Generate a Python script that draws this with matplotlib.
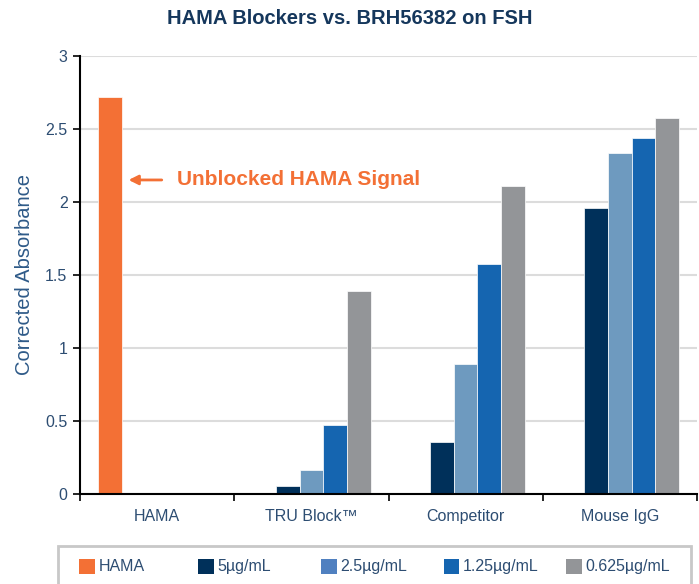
import matplotlib
matplotlib.use("Agg")
import matplotlib.pyplot as plt
from matplotlib.patches import Rectangle
import numpy as np

plt.rcParams['font.family'] = ['Liberation Sans', 'DejaVu Sans']

categories = ["HAMA", "TRU Block\u2122", "Competitor", "Mouse IgG"]
series_names = ["HAMA", "5\u00b5g/mL", "2.5\u00b5g/mL", "1.25\u00b5g/mL", "0.625\u00b5g/mL"]
hama = [2.72, 0, 0, 0]
c5 = [0, 0.05, 0.35, 1.96]
c25 = [0, 0.16, 0.885, 2.335]
c125 = [0, 0.47, 1.575, 2.435]
c0625 = [0, 1.39, 2.11, 2.575]
series_values = [hama, c5, c25, c125, c0625]
bar_colors = ["#F37035", "#00305A", "#6E9ABF", "#1565B0", "#939598"]
legend_colors = ["#F37035", "#00305A", "#5080C0", "#1565B0", "#939598"]
yticks = [0, 0.5, 1, 1.5, 2, 2.5, 3]
ytick_labels = ["0", "0.5", "1", "1.5", "2", "2.5", "3"]

W, H = 699, 584
fig = plt.figure(figsize=(W / 100, H / 100), dpi=100)
ax = fig.add_axes([80 / W, 1 - 493.5 / H, 617 / W, (493.5 - 56) / H])

x = np.arange(len(categories))
n = len(series_values)
w = 1 / 6.5
for i, (vals, col) in enumerate(zip(series_values, bar_colors)):
    ax.bar(x + (i - 2) * w, vals, width=w, color=col, edgecolor='white',
           linewidth=0.5, zorder=3)

ax.set_xlim(-0.5, 3.5)
ax.set_ylim(0, 3)
ax.set_yticks(yticks)
ax.set_yticklabels(ytick_labels)
ax.set_xticks(x)
ax.set_xticklabels(categories)
ax.set_xticks(np.arange(-0.5, 3.6, 1), minor=True)
ax.tick_params(axis='x', which='major', length=0, pad=11, labelsize=11.5, labelcolor='#2D4D72')
ax.tick_params(axis='x', which='minor', length=5, width=1.2, color='black', direction='out')
ax.tick_params(axis='y', length=5, width=1.2, color='black', pad=4, labelsize=11.5, labelcolor='#2D4D72')

ax.grid(axis='y', color='#dcdcdc', linewidth=1.5, zorder=0)
ax.set_axisbelow(True)
for s in ['top', 'right']:
    ax.spines[s].set_visible(False)
for s in ['left', 'bottom']:
    ax.spines[s].set_linewidth(1.5)
    ax.spines[s].set_color('black')
    ax.spines[s].set_zorder(4)

ax.set_ylabel("Corrected Absorbance", fontsize=14.5, color='#2E5A88', labelpad=8)

fig.text(0.5, 1 - 18 / H, "HAMA Blockers vs. BRH56382 on FSH", ha='center', va='center',
         fontsize=14.5, fontweight='bold', color='#15375C')

ax.annotate("Unblocked HAMA Signal", xy=(-0.185, 2.15), xytext=(0.129, 2.15),
            ha='left', va='center', fontsize=15, fontweight='bold', color='#F37035',
            arrowprops=dict(arrowstyle='-|>', color='#F37035', lw=2, mutation_scale=14,
                            shrinkA=9, shrinkB=0))

# legend frame and entries
fig.patches.append(Rectangle((58 / W, -10 / H), (691 - 58) / W, (10 + 584 - 546) / H,
                             transform=fig.transFigure, fill=False, edgecolor='#c8c8c8',
                             linewidth=2))
starts = [79.3, 198, 321, 443.5, 566]
for sx, name, col in zip(starts, series_names, legend_colors):
    fig.patches.append(Rectangle((sx / W, 1 - 574 / H), 15.5 / W, 15 / H,
                                 transform=fig.transFigure, facecolor=col, edgecolor='none'))
    fig.text((sx + 19) / W, 1 - 566.5 / H, name, ha='left', va='center',
             fontsize=11.5, color='#2D4D72')

fig.savefig("out.png", dpi=100)
